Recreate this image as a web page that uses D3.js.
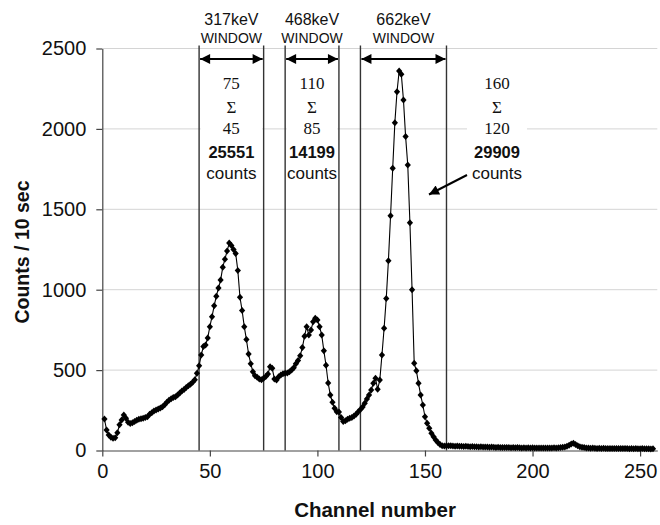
<!DOCTYPE html>
<html>
<head>
<meta charset="utf-8">
<script src="https://cdn.jsdelivr.net/npm/d3@7/dist/d3.min.js"></script>
<style>
  html, body { margin: 0; padding: 0; background: #fff; }
  svg { display: block; }
</style>
</head>
<body>
<svg id="chart" width="660" height="525"></svg>
<script>
// Gamma spectrum: counts per 10 s for channels 1..256
const channels = d3.range(1, 257);
const counts = [
  196, 127, 96, 82, 76, 80, 110, 160, 190, 221,
  200, 175, 168, 172, 180, 188, 195, 198, 200, 205,
  210, 225, 235, 245, 252, 258, 265, 272, 285, 300,
  312, 322, 330, 335, 345, 358, 370, 380, 392, 402,
  412, 425, 440, 480, 527, 594, 646, 656, 700, 770,
  832, 900, 960, 1010, 1060, 1140, 1190, 1240, 1290, 1275,
  1250, 1225, 1120, 953, 870, 770, 690, 600, 540, 490,
  465, 455, 445, 440, 449, 460, 476, 521, 511, 445,
  438, 459, 470, 478, 480, 482, 490, 500, 515, 540,
  560, 590, 640, 710, 770, 718, 749, 800, 822, 812,
  770, 718, 620, 530, 420, 345, 300, 262, 241, 240,
  205, 180, 185, 194, 200, 206, 215, 225, 241, 255,
  270, 294, 320, 345, 376, 418, 449, 381, 438, 594,
  760, 946, 1180, 1460, 1755, 2039, 2231, 2360, 2340, 2180,
  1952, 1775, 1417, 1000, 542, 496, 418, 345, 283, 210,
  169, 138, 107, 85, 65, 50, 38, 30, 28, 30,
  29, 30, 28, 27, 28, 26, 27, 25, 26, 25,
  24, 25, 23, 24, 22, 23, 22, 21, 22, 20,
  21, 20, 19, 20, 18, 19, 18, 19, 18, 17,
  18, 17, 18, 17, 16, 17, 16, 17, 16, 17,
  16, 15, 16, 15, 16, 15, 16, 15, 16, 17,
  16, 17, 18, 20, 22, 26, 32, 40, 45, 38,
  30, 24, 20, 18, 16, 15, 14, 15, 14, 13,
  14, 13, 14, 13, 13, 12, 13, 12, 13, 12,
  12, 13, 12, 12, 11, 12, 11, 12, 11, 11,
  12, 11, 11, 11, 10, 11
];

const xTicks = [0, 50, 100, 150, 200, 250];
const yTicks = [0, 500, 1000, 1500, 2000, 2500];

// Energy windows: channel bounds, label and integrated counts
const windowEnergies = ["317keV", "468keV", "662keV"];
const windowLow = [45, 85, 120];
const windowHigh = [75, 110, 160];
const windowCounts = ["25551", "14199", "29909"];

const sans = "Arial, 'Liberation Sans', Helvetica, sans-serif";
const serif = "'Times New Roman', 'Liberation Serif', Times, serif";

const svg = d3.select("#chart");
const x = d3.scaleLinear().domain([0, 258]).range([102.3, 657.3]);
const y = d3.scaleLinear().domain([0, 2500]).range([450.5, 48.5]);

// Horizontal gridlines
svg.append("g")
  .selectAll("line")
  .data(yTicks.filter(d => d > 0))
  .join("line")
  .attr("x1", x(0)).attr("x2", x(258))
  .attr("y1", d => y(d)).attr("y2", d => y(d))
  .attr("stroke", "#d4d4d4").attr("stroke-width", 1);

// Axes
const fmt = d3.format("d");
const xAxis = svg.append("g")
  .attr("transform", `translate(0,${y(0)})`)
  .call(d3.axisBottom(x).tickValues(xTicks).tickFormat(fmt)
    .tickSize(6).tickPadding(7).tickSizeOuter(0));
const yAxis = svg.append("g")
  .attr("transform", `translate(${x(0)},0)`)
  .call(d3.axisLeft(y).tickValues(yTicks).tickFormat(fmt)
    .tickSize(6).tickPadding(10).tickSizeOuter(0));
[xAxis, yAxis].forEach(g => {
  g.select(".domain").attr("stroke", "#444").attr("stroke-width", 1.2);
  g.selectAll(".tick line").attr("stroke", "#444").attr("stroke-width", 1.2);
  g.selectAll(".tick text")
    .attr("font-family", sans).attr("font-size", 20).attr("fill", "#111");
});

// Window boundary lines
const bounds = windowLow.concat(windowHigh);
svg.append("g")
  .selectAll("line")
  .data(bounds)
  .join("line")
  .attr("x1", d => x(d)).attr("x2", d => x(d))
  .attr("y1", y(0)).attr("y2", y(2500) - 3)
  .attr("stroke", "#333").attr("stroke-width", 1.4);

// White backing boxes for the window sums
const sumCenters = [x((45 + 75) / 2), x((85 + 110) / 2), 497];
const boxWidths = [x(75) - x(45) - 3, x(110) - x(85) - 3, 60];
svg.append("g")
  .selectAll("rect")
  .data(sumCenters)
  .join("rect")
  .attr("x", (d, i) => d - boxWidths[i] / 2)
  .attr("width", (d, i) => boxWidths[i])
  .attr("y", 68).attr("height", 118)
  .attr("fill", "#fff");

// Spectrum line and markers
const pts = channels.map((c, i) => [c, counts[i]]);
svg.append("path")
  .datum(pts)
  .attr("fill", "none")
  .attr("stroke", "#000")
  .attr("stroke-width", 1.1)
  .attr("d", d3.line().x(d => x(d[0])).y(d => y(d[1])));
svg.append("g")
  .selectAll("path")
  .data(pts)
  .join("path")
  .attr("transform", d => `translate(${x(d[0])},${y(d[1])})`)
  .attr("d", "M0,-3.5L3.1,0L0,3.5L-3.1,0Z")
  .attr("fill", "#000");

// Double-headed window arrows
const defs = svg.append("defs");
defs.append("marker")
  .attr("id", "head")
  .attr("viewBox", "0 0 10 10")
  .attr("refX", 10).attr("refY", 5)
  .attr("markerWidth", 12).attr("markerHeight", 10)
  .attr("markerUnits", "userSpaceOnUse")
  .attr("orient", "auto-start-reverse")
  .append("path").attr("d", "M0,0L10,5L0,10Z").attr("fill", "#000");

const arrowY = 59;
svg.append("g")
  .selectAll("line")
  .data(windowLow)
  .join("line")
  .attr("x1", d => x(d) + 1).attr("x2", (d, i) => x(windowHigh[i]) - 1)
  .attr("y1", arrowY).attr("y2", arrowY)
  .attr("stroke", "#000").attr("stroke-width", 1.8)
  .attr("marker-start", "url(#head)")
  .attr("marker-end", "url(#head)");

// Window headings
const heads = svg.append("g").attr("text-anchor", "middle").attr("fill", "#111");
windowEnergies.forEach((e, i) => {
  const cx = x((windowLow[i] + windowHigh[i]) / 2);
  heads.append("text").attr("x", cx).attr("y", 25)
    .attr("font-family", sans).attr("font-size", 16).text(e);
  heads.append("text").attr("x", cx).attr("y", 43)
    .attr("font-family", sans).attr("font-size", 14).text("WINDOW");
});

// Sum annotations inside each window
const sums = svg.append("g").attr("text-anchor", "middle").attr("fill", "#111");
windowEnergies.forEach((e, i) => {
  const cx = sumCenters[i];
  sums.append("text").attr("x", cx).attr("y", 89)
    .attr("font-family", serif).attr("font-size", 17).text(windowHigh[i]);
  sums.append("text").attr("x", cx).attr("y", 113)
    .attr("font-family", serif).attr("font-size", 17).text("Σ");
  sums.append("text").attr("x", cx).attr("y", 134)
    .attr("font-family", serif).attr("font-size", 17).text(windowLow[i]);
  sums.append("text").attr("x", cx).attr("y", 158)
    .attr("font-family", sans).attr("font-size", 16.5).attr("font-weight", "bold").text(windowCounts[i]);
  sums.append("text").attr("x", cx).attr("y", 179)
    .attr("font-family", sans).attr("font-size", 17).text("counts");
});

// Pointer from the 662 keV sum to its window
svg.append("line")
  .attr("x1", 467).attr("y1", 175)
  .attr("x2", 429).attr("y2", 194.5)
  .attr("stroke", "#000").attr("stroke-width", 2)
  .attr("marker-end", "url(#head)");

// Axis titles
svg.append("text")
  .attr("x", 375).attr("y", 517)
  .attr("text-anchor", "middle")
  .attr("font-family", sans).attr("font-size", 20.5).attr("font-weight", "bold")
  .attr("fill", "#111")
  .text("Channel number");
svg.append("text")
  .attr("transform", "translate(29,252) rotate(-90)")
  .attr("text-anchor", "middle")
  .attr("font-family", sans).attr("font-size", 19.5).attr("font-weight", "bold")
  .attr("fill", "#111")
  .text("Counts / 10 sec");
</script>
</body>
</html>
